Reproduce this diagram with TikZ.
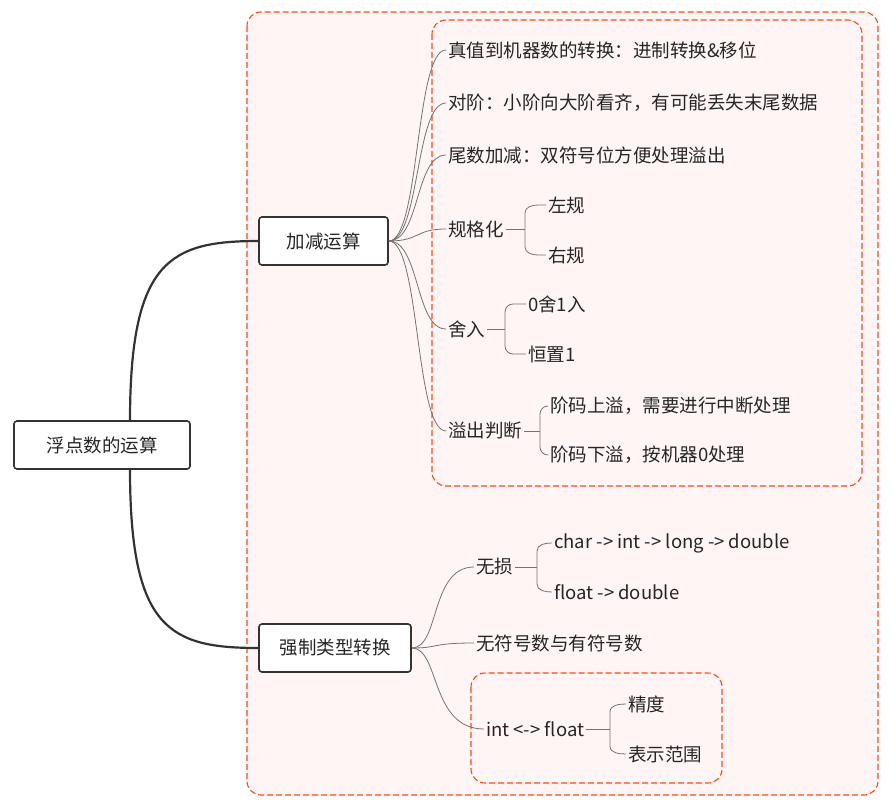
\documentclass[tikz,border=0pt]{standalone}
\usepackage{fontspec}
\setmainfont{Noto Sans CJK SC}
\begin{document}
\begin{tikzpicture}[x=1pt,y=-1pt,
  every node/.style={font=\fontsize{18.5}{20}\selectfont,text=black!85},
  lbl/.style={anchor=west,inner sep=2pt},
  box/.style={draw=black!80,line width=1.6pt,rounded corners=3pt,fill=white,minimum height=48pt,inner sep=0pt},
  dbox/.style={draw=red!60!orange!90,dashed,dash pattern=on 6pt off 3pt,line width=1.1pt,rounded corners=14pt,fill=red!4},
  ln/.style={draw=black!55,line width=0.8pt},
  thick/.style={draw=black!80,line width=2.2pt}]
\useasboundingbox (0,0) rectangle (896,805);
\fill[white] (0,0) rectangle (896,805);
\draw[dbox] (247,12) rectangle (878,795);
\draw[dbox] (432,20) rectangle (862,486);
\draw[dbox] (471,673) rectangle (722,783);

\node[box,minimum width=176pt] (root) at (102,445) {浮点数的运算};
\coordinate (rt) at (130,421);
\coordinate (rb) at (130,469);
\draw[thick] (rt) .. controls (130,260) and (170,241) .. (259,241);
\draw[thick] (rb) .. controls (130,630) and (170,648) .. (259,648);
\node[box,minimum width=129pt] (a) at (323.5,241) {加减运算};
\node[box,minimum width=152pt] (b) at (335,648) {强制类型转换};

% children of a
\node[lbl] (a1) at (446,50) {真值到机器数的转换：进制转换\&移位};
\node[lbl] (a2) at (446,103) {对阶：小阶向大阶看齐，有可能丢失末尾数据};
\node[lbl] (a3) at (446,155) {尾数加减：双符号位方便处理溢出};
\node[lbl] (a4) at (446,229) {规格化};
\node[lbl] (a5) at (446,329) {舍入};
\node[lbl] (a6) at (446,431) {溢出判断};
\foreach \n in {a1,a2,a3,a4,a5,a6}
  \draw[ln] (a.east) .. controls (420,241) and (415,0|-\n.west) .. (\n.west);

\node[lbl] (l1) at (546,205) {左规};
\node[lbl] (l2) at (546,255) {右规};
\draw[ln] (a4.east) -- (525,229);
\draw[ln] (l1.west) -- ++(-8,0) to[out=180,in=90] (525,213) -- (525,247) to[out=-90,in=180] ([xshift=-8]l2.west) -- (l2.west);
\node[lbl] (s1) at (526,304) {0舍1入};
\node[lbl] (s2) at (526,354) {恒置1};
\draw[ln] (a5.east) -- (505,329);
\draw[ln] (s1.west) -- ++(-13,0) to[out=180,in=90] (505,312) -- (505,346) to[out=-90,in=180] ([xshift=-13]s2.west) -- (s2.west);
\node[lbl] (o1) at (548,406) {阶码上溢，需要进行中断处理};
\node[lbl] (o2) at (548,455) {阶码下溢，按机器0处理};
\draw[ln] (a6.east) -- (540,431);
\draw[ln] (o1.west) to[out=180,in=90] (540,414) -- (540,447) to[out=-90,in=180] (o2.west);

% children of b
\node[lbl] (b1) at (474,567) {无损};
\node[lbl] (b2) at (474,643) {无符号数与有符号数};
\node[lbl] (b3) at (484,729) {int <-> float};
\foreach \n in {b1,b2,b3}
  \draw[ln] (b.east) .. controls (440,648) and (430,0|-\n.west) .. (\n.west);
\node[lbl] (w1) at (552,543) {char -> int -> long -> double};
\node[lbl] (w2) at (552,592) {float -> double};
\draw[ln] (b1.east) -- (537,567);
\draw[ln] (w1.west) to[out=180,in=90] (537,551) -- (537,584) to[out=-90,in=180] (w2.west);
\node[lbl] (f1) at (626,704) {精度};
\node[lbl] (f2) at (626,754) {表示范围};
\draw[ln] (b3.east) -- (610,729);
\draw[ln] (f1.west) to[out=180,in=90] (610,712) -- (610,746) to[out=-90,in=180] (f2.west);
\end{tikzpicture}
\end{document}
